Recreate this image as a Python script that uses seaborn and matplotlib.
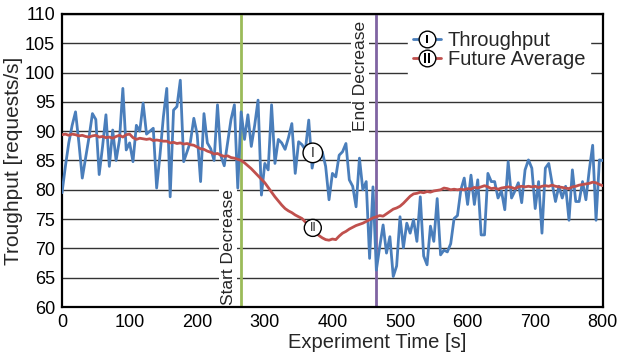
import numpy as np
import pandas as pd
import seaborn as sns
import matplotlib.pyplot as plt
from matplotlib.lines import Line2D

# time axis, one sample every 5 s
time_s = np.arange(0, 805, 5)

throughput = [
    79.5, 84.0, 88.0, 91.0, 93.3, 88.0, 82.0, 85.5, 89.0, 93.0,
    92.0, 82.6, 87.4, 92.8, 84.0, 90.2, 85.0, 88.5, 97.3, 86.8,
    88.0, 84.8, 91.0, 90.0, 94.8, 89.5, 90.0, 90.5, 80.3, 86.0,
    92.5, 97.3, 78.8, 93.6, 94.2, 98.7, 84.8, 86.5, 88.2, 92.2,
    89.4, 81.4, 93.0, 88.0, 87.0, 85.0, 94.5, 85.8, 84.1, 88.0,
    92.0, 94.5, 80.3, 93.3, 88.6, 92.8, 87.4, 91.0, 95.3, 79.1,
    84.5, 83.4, 94.5, 84.5, 88.6, 88.0, 86.9, 88.9, 91.3, 82.8,
    88.2, 87.7, 86.8, 91.9, 83.7, 86.8, 87.1, 86.5, 84.0, 78.3,
    82.8, 82.2, 85.9, 86.5, 87.9, 81.7, 80.6, 77.1, 85.4, 80.0,
    81.4, 68.3, 80.5, 66.3, 70.3, 74.0, 69.2, 72.0, 65.2, 67.0,
    75.4, 70.1, 74.3, 72.6, 74.9, 71.2, 78.8, 68.7, 67.2, 73.8,
    71.2, 78.5, 68.9, 69.7, 69.4, 70.8, 75.1, 75.6, 80.0, 82.0,
    77.5, 82.5, 77.5, 81.7, 72.3, 72.3, 82.8, 81.4, 81.4, 78.6,
    79.8, 76.6, 84.8, 78.6, 79.8, 81.2, 77.8, 83.4, 85.1, 83.7,
    76.8, 81.4, 72.6, 83.7, 84.5, 81.1, 78.0, 80.6, 78.6, 80.6,
    74.8, 83.4, 78.0, 78.0, 81.4, 78.3, 83.4, 87.6, 74.8, 85.1,
    85.0,
]

future_avg = [
    89.4, 89.5, 89.3, 89.5, 89.4, 89.2, 89.3, 89.1, 89.0, 89.2,
    89.3, 89.0, 89.1, 88.9, 89.0, 88.8, 89.1, 89.3, 89.0, 89.4,
    89.5, 88.9, 88.6, 88.8, 88.7, 88.6, 88.7, 88.4, 88.5, 88.4,
    88.3, 88.3, 88.0, 88.1, 87.9, 88.0, 87.8, 87.9, 87.7, 87.6,
    87.3, 87.0, 86.9, 86.6, 86.4, 86.1, 86.2, 85.9, 85.7, 85.8,
    85.5, 85.4, 85.2, 85.0, 84.6, 84.1, 83.6, 83.0, 82.4, 81.8,
    81.2, 80.4, 79.6, 78.8, 78.1, 77.4, 76.8, 76.4, 76.1, 75.7,
    75.4, 75.1, 74.5, 73.9, 73.4, 72.8, 72.2, 71.8, 71.5, 71.4,
    71.6, 71.5, 72.1, 72.6, 72.9, 73.3, 73.6, 73.9, 74.1, 74.3,
    74.6, 74.9, 75.2, 75.4, 75.6, 75.5, 75.9, 76.3, 76.7, 76.9,
    77.2, 77.7, 78.3, 78.9, 79.3, 79.4, 79.6, 79.5, 79.7, 79.6,
    79.8, 79.9, 80.0, 80.3, 80.2, 80.0, 80.1, 80.0, 80.1, 80.0,
    80.2, 80.1, 80.4, 80.3, 80.5, 80.7, 80.5, 80.2, 80.3, 80.1,
    80.3, 80.4, 80.5, 80.4, 80.2, 80.5, 80.6, 80.5, 80.6, 80.5,
    80.6, 80.4, 80.6, 80.7, 80.6, 80.8, 80.6, 80.5, 80.4, 80.3,
    80.2, 80.5, 80.6, 80.8, 80.9, 81.0, 81.1, 81.3, 81.2, 80.9,
    80.7,
]

start_decrease = 265
end_decrease = 465

blue = '#4a7ebb'
red = '#c0504d'

df = pd.DataFrame({'time': time_s, 'throughput': throughput, 'future': future_avg})

sns.set_style('white')
plt.rcParams['font.family'] = ['Liberation Sans', 'DejaVu Sans']

fig = plt.figure(figsize=(6.17, 3.55), dpi=100)
ax = fig.add_axes([0.1005, 0.1352, 0.8765, 0.8254])

sns.lineplot(data=df, x='time', y='throughput', color=blue, lw=2, ax=ax, legend=False, zorder=3)
sns.lineplot(data=df, x='time', y='future', color=red, lw=2, ax=ax, legend=False, zorder=4)

ax.axvline(start_decrease, color='#9bbb59', lw=2, zorder=2)
ax.axvline(end_decrease, color='#8064a2', lw=2, zorder=2)

ax.set_xlim(0, 800)
ax.set_ylim(60, 110)
ax.set_xticks(range(0, 801, 100))
ax.set_yticks(range(60, 111, 5))
ax.yaxis.grid(True, color='#333333', lw=1)
ax.set_axisbelow(True)
for s in ax.spines.values():
    s.set_color('black')
    s.set_linewidth(1.6)
ax.tick_params(axis='both', direction='out', length=4, width=1, labelsize=13, pad=1, colors='black')
ax.set_xlabel('Experiment Time [s]', fontsize=14.5)
ax.xaxis.set_label_coords(0.582, -0.09)
ax.set_ylabel('Troughput [requests/s]', fontsize=15, labelpad=1)

ax.text(246, 60.4, 'Start Decrease', rotation=90, ha='center', va='bottom', fontsize=12.5,
        bbox=dict(fc='white', ec='none', pad=1), zorder=2)
ax.text(441, 108.8, 'End Decrease', rotation=90, ha='center', va='top', fontsize=12.5,
        bbox=dict(fc='white', ec='none', pad=1), zorder=2)

circ = dict(boxstyle='circle,pad=0.2', fc='white', ec='black', lw=1)
ax.text(371, 86.3, 'I', ha='center', va='center', fontsize=10, bbox=circ, zorder=5)
ax.text(371, 73.5, 'II', ha='center', va='center', fontsize=9, bbox=circ, zorder=5)

h1 = (Line2D([], [], color=blue, lw=2, marker='o', ms=12, mfc='white', mec='black', mew=1),
      Line2D([], [], ls='none', marker=r'$\mathrm{I}$', ms=6, mew=0, color='black'))
h2 = (Line2D([], [], color=red, lw=2, marker='o', ms=12, mfc='white', mec='black', mew=1),
      Line2D([], [], ls='none', marker=r'$\mathrm{II}$', ms=7, mew=0, color='black'))
leg = ax.legend([h1, h2], ['Throughput', 'Future Average'], loc='upper right',
                bbox_to_anchor=(0.995, 0.995), fontsize=14.5, frameon=True, framealpha=1,
                edgecolor='white', fancybox=False, handlelength=1.4, handletextpad=0.3,
                labelspacing=0.0, borderpad=0.25)
leg.set_zorder(6)

fig.savefig('out.png', dpi=100)
